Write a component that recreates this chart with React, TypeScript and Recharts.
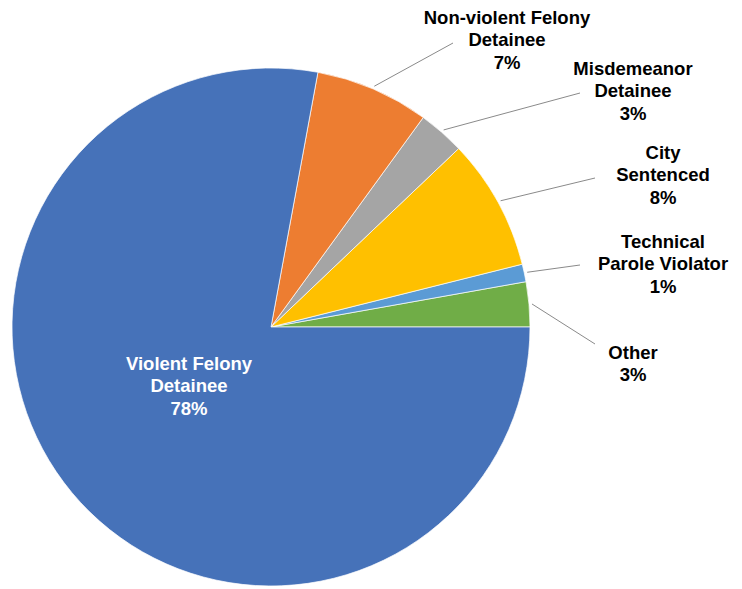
import React from "react";
import { PieChart, Pie, Cell } from "recharts";

// slices listed counterclockwise from 3 o'clock
const categories = [
  "Other",
  "Technical Parole Violator",
  "City Sentenced",
  "Misdemeanor Detainee",
  "Non-violent Felony Detainee",
  "Violent Felony Detainee",
];
const values = [2.8, 1.1, 8.2, 2.9, 7.1, 77.9];
const labelLines = [
  ["Other"],
  ["Technical", "Parole Violator"],
  ["City", "Sentenced"],
  ["Misdemeanor", "Detainee"],
  ["Non-violent Felony", "Detainee"],
  ["Violent Felony", "Detainee"],
];
const colors = ["#70AD47", "#5B9BD5", "#FFC000", "#A5A5A5", "#ED7D31", "#4672B9"];

const data = categories.map((name, i) => ({ name, value: values[i] }));

// label block placement relative to pie centre (dy = first line), leader end point
type Layout = { dx: number; dy: number; ex?: number; ey?: number; inside?: boolean };
const labelLayout: Layout[] = [
  { dx: 362, dy: 25, ex: 324, ey: 17 },
  { dx: 392, dy: -86, ex: 309, ey: -62 },
  { dx: 392, dy: -175, ex: 324, ey: -149 },
  { dx: 362, dy: -259, ex: 309, ey: -234 },
  { dx: 236, dy: -310, ex: 182, ey: -284 },
  { dx: -82, dy: 36, inside: true },
];

const RAD = Math.PI / 180;
const LINE_H = 22.5;
const FONT_SIZE = 18.5;
const FONT = "'Liberation Sans', Arial, Helvetica, sans-serif";

function renderLabel(props: any) {
  const { cx, cy, midAngle, outerRadius, percent, index } = props;
  const lines = [...labelLines[index], `${Math.round(percent * 100)}%`];
  const layout = labelLayout[index];
  const x = cx + layout.dx;
  const y = cy + layout.dy;
  const text = (
    <text
      x={x}
      y={y + 6.5}
      textAnchor="middle"
      fill={layout.inside ? "#fff" : "#000"}
      fontFamily={FONT}
      fontWeight="bold"
      fontSize={FONT_SIZE}
    >
      {lines.map((t, i) => (
        <tspan key={i} x={x} dy={i === 0 ? 0 : LINE_H}>
          {t}
        </tspan>
      ))}
    </text>
  );
  if (layout.inside) return text;
  const sx = cx + (outerRadius + 3) * Math.cos(-midAngle * RAD);
  const sy = cy + (outerRadius + 3) * Math.sin(-midAngle * RAD);
  return (
    <g>
      <line
        x1={sx}
        y1={sy}
        x2={cx + (layout.ex ?? 0)}
        y2={cy + (layout.ey ?? 0)}
        stroke="#8a8a8a"
        strokeWidth={1}
      />
      {text}
    </g>
  );
}

export default function App() {
  return (
    <div style={{ position: "absolute", left: 0, top: 0, background: "#fff" }}>
      <PieChart
        width={742}
        height={589}
        margin={{ top: 0, right: 0, bottom: 0, left: 0 }}
      >
        <Pie
          data={data}
          dataKey="value"
          nameKey="name"
          cx={271}
          cy={327}
          outerRadius={259}
          startAngle={0}
          endAngle={360}
          stroke="#fff"
          strokeWidth={0.7}
          label={renderLabel}
          labelLine={false}
          isAnimationActive={false}
        >
          {data.map((d, i) => (
            <Cell key={d.name} fill={colors[i]} />
          ))}
        </Pie>
      </PieChart>
    </div>
  );
}
